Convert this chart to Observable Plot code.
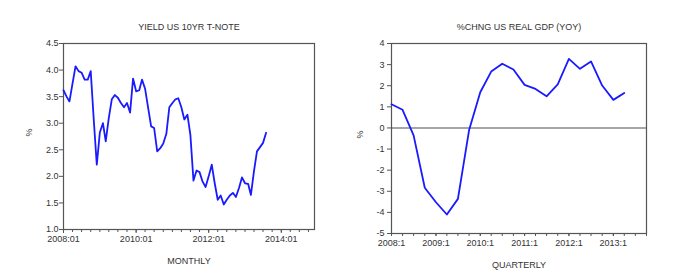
<!DOCTYPE html>
<html>
<head>
<meta charset="utf-8">
<script src="https://cdn.jsdelivr.net/npm/d3@7"></script>
<script src="https://cdn.jsdelivr.net/npm/@observablehq/plot@0.6"></script>
<style>
  body { margin: 0; background: #fff; }
  #wrap { position: relative; width: 693px; height: 280px; overflow: hidden; font-family: "Liberation Sans", Arial, sans-serif; }
  #wrap svg { position: absolute; top: 0; }
</style>
</head>
<body>
<div id="wrap"></div>
<script>
// ---- Data ----
const yieldTitle = "YIELD US 10YR T-NOTE";
const yieldXLabel = "MONTHLY";
const yieldStart = "2008-01-01"; // monthly series start
const yieldValues = [
  3.62, 3.50, 3.41, 3.75, 4.07, 3.98, 3.95, 3.82, 3.82, 3.98, 3.05, 2.22,
  2.83, 3.00, 2.66, 3.10, 3.45, 3.53, 3.48, 3.38, 3.30, 3.38, 3.20, 3.84,
  3.60, 3.62, 3.82, 3.65, 3.30, 2.94, 2.91, 2.47, 2.53, 2.62, 2.80, 3.30,
  3.38, 3.45, 3.47, 3.30, 3.07, 3.16, 2.78, 1.92, 2.11, 2.08, 1.90, 1.80,
  2.00, 2.22, 1.88, 1.56, 1.64, 1.47, 1.56, 1.64, 1.69, 1.61, 1.78, 1.98,
  1.87, 1.86, 1.65, 2.10, 2.47, 2.55, 2.63, 2.82
];
const yieldYTicks = [1.0, 1.5, 2.0, 2.5, 3.0, 3.5, 4.0, 4.5];
const yieldXTickLabels = ["2008:01", "2010:01", "2012:01", "2014:01"];

const gdpTitle = "%CHNG US REAL GDP (YOY)";
const gdpXLabel = "QUARTERLY";
const gdpStart = "2008-01-01"; // quarterly series start (2008:1)
const gdpValues = [
  1.12, 0.86, -0.35, -2.83, -3.52, -4.10, -3.36, -0.10,
  1.69, 2.67, 3.04, 2.77, 2.04, 1.85, 1.50, 2.06,
  3.27, 2.80, 3.15, 2.01, 1.33, 1.66
];
const gdpYTicks = [-5, -4, -3, -2, -1, 0, 1, 2, 3, 4];
const gdpXTickLabels = ["2008:1", "2009:1", "2010:1", "2011:1", "2012:1", "2013:1"];

const yLabel = "%";

// ---- Build tables ----
const parse = d3.utcParse("%Y-%m-%d");
const y0 = parse(yieldStart);
const yieldData = yieldValues.map((v, i) => ({date: d3.utcMonth.offset(y0, i), value: v}));
const g0 = parse(gdpStart);
const gdpData = gdpValues.map((v, i) => ({date: d3.utcMonth.offset(g0, 3 * i), value: v}));

const parseMonthLabel = s => { const [y, m] = s.split(":"); return new Date(Date.UTC(+y, +m - 1, 1)); };
const parseQuarterLabel = s => { const [y, q] = s.split(":"); return new Date(Date.UTC(+y, (+q - 1) * 3, 1)); };

const textColor = "#333";
const frameColor = "#555";
const lineColor = "#1a1aff";
const fontSize = 9;

// ---- Left chart ----
const leftMajor = yieldXTickLabels.map(parseMonthLabel);
const leftDomain = [y0, d3.utcMonth.offset(y0, 83)];
const leftMinor = d3.utcMonth.every(3).range(leftDomain[0], d3.utcDay.offset(leftDomain[1], 1));
const leftFmt = new Map(yieldXTickLabels.map(s => [+parseMonthLabel(s), s]));

const left = Plot.plot({
  width: 340, height: 280,
  marginLeft: 63, marginRight: 26, marginTop: 43, marginBottom: 51,
  style: {fontFamily: "'Liberation Sans', Arial, sans-serif", fontSize: fontSize + "px", color: textColor, background: "transparent"},
  x: {type: "utc", domain: leftDomain},
  y: {domain: [1, 4.5]},
  marks: [
    Plot.axisX(leftMinor, {tickSize: 3, tickFormat: () => null, stroke: frameColor}),
    Plot.axisX(leftMajor, {tickSize: 4, tickPadding: 2, tickFormat: d => leftFmt.get(+d), stroke: frameColor, fill: textColor}),
    Plot.axisY(yieldYTicks, {tickSize: 4, tickPadding: 1, tickFormat: d3.format(".1f"), label: null, stroke: frameColor, fill: textColor}),
    Plot.frame({stroke: frameColor, strokeWidth: 1.2}),
    Plot.lineY(yieldData, {x: "date", y: "value", stroke: lineColor, strokeWidth: 1.8}),
    Plot.text([yieldTitle], {frameAnchor: "top", dy: -20, fill: textColor}),
    Plot.text([yieldXLabel], {frameAnchor: "bottom", dy: 34, fill: textColor}),
    Plot.text([yLabel], {frameAnchor: "left", dx: -34, rotate: -90, fill: textColor})
  ]
});
left.style.left = "0px";

// ---- Right chart ----
const rightMajor = gdpXTickLabels.map(parseQuarterLabel);
const rightDomain = [g0, d3.utcMonth.offset(g0, 3 * 23)];
const rightMinor = d3.utcMonth.every(3).range(rightDomain[0], d3.utcDay.offset(rightDomain[1], 1));
const rightFmt = new Map(gdpXTickLabels.map(s => [+parseQuarterLabel(s), s]));

const right = Plot.plot({
  width: 353, height: 280,
  marginLeft: 51, marginRight: 47, marginTop: 43, marginBottom: 47,
  style: {fontFamily: "'Liberation Sans', Arial, sans-serif", fontSize: fontSize + "px", color: textColor, background: "transparent"},
  x: {type: "utc", domain: rightDomain},
  y: {domain: [-5, 4]},
  marks: [
    Plot.axisX(rightMinor, {tickSize: 3, tickFormat: () => null, stroke: frameColor}),
    Plot.axisX(rightMajor, {tickSize: 3, tickPadding: 3, tickFormat: d => rightFmt.get(+d), stroke: frameColor, fill: textColor}),
    Plot.axisY(gdpYTicks, {tickSize: 4, tickPadding: 3, tickFormat: d => String(d), label: null, stroke: frameColor, fill: textColor}),
    Plot.ruleY([0], {stroke: "#888", strokeWidth: 1.5}),
    Plot.frame({stroke: frameColor, strokeWidth: 1.2}),
    Plot.lineY(gdpData, {x: "date", y: "value", stroke: lineColor, strokeWidth: 1.8}),
    Plot.text([gdpTitle], {frameAnchor: "top", dy: -20, fill: textColor}),
    Plot.text([gdpXLabel], {frameAnchor: "bottom", dy: 34, fill: textColor}),
    Plot.text([yLabel], {frameAnchor: "left", dx: -31, rotate: -90, fill: textColor})
  ]
});
right.style.left = "340px";

const wrap = document.getElementById("wrap");
wrap.appendChild(left);
wrap.appendChild(right);
</script>
</body>
</html>
